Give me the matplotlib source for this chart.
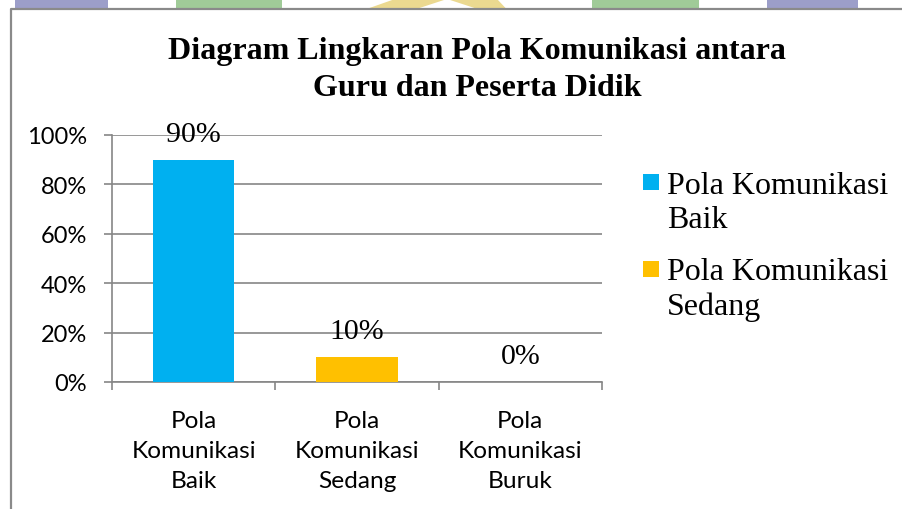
import matplotlib.pyplot as plt
from matplotlib.patches import Rectangle, Polygon
import numpy as np

# data
categories = ['Pola\nKomunikasi\nBaik', 'Pola\nKomunikasi\nSedang', 'Pola\nKomunikasi\nBuruk']
values = [0.90, 0.10, 0.00]
value_labels = ['90%', '10%', '0%']
bar_colors = ['#00B0F0', '#FFC000', '#A5A5A5']
legend_labels = ['Pola Komunikasi\nBaik', 'Pola Komunikasi\nSedang']
y_ticks = [0, 0.2, 0.4, 0.6, 0.8, 1.0]
y_tick_labels = ['0%', '20%', '40%', '60%', '80%', '100%']
title = 'Diagram Lingkaran Pola Komunikasi antara\nGuru dan Peserta Didik'

W, H = 902, 510
GRID = '#868686'
SERIF = 'Liberation Serif'
SANS = 'Lato'

fig = plt.figure(figsize=(W / 100, H / 100), dpi=100)

# background layer in pixel coordinates (page watermark + chart frame + legend)
bg = fig.add_axes([0, 0, 1, 1], zorder=0)
bg.set_xlim(0, W)
bg.set_ylim(H, 0)
bg.axis('off')
for x0, x1, c in [(15, 108, '#9C9EC9'), (176, 282, '#A0CB98'),
                  (592, 699, '#A0CB98'), (767, 858, '#9C9EC9')]:
    bg.add_patch(Rectangle((x0, 0), x1 - x0, 9.5, color=c, lw=0))
bg.add_patch(Polygon([(368, 9.5), (395, 0), (497, 0), (506, 9.5)], color='#EBD990', lw=0))
bg.add_patch(Polygon([(418, 9.5), (447, 0), (476, 9.5)], color='white', lw=0))
bg.plot([10.5, 10.5, W], [H, 9.5, 9.5], color='#8A8A8A', lw=1.6, solid_capstyle='butt')

# legend (first line of each label lines up with its swatch)
for i, lab in enumerate(legend_labels):
    top = 175 + i * 87
    bg.add_patch(Rectangle((643, top), 16, 16, color=bar_colors[i], lw=0))
    # va='baseline' pins the last line, so step down one line (35 px)
    bg.text(667, top + 18 + 35, lab, ha='left', va='baseline', fontsize=23,
            family=SERIF, linespacing=1.23)

# plot area
ax = fig.add_axes([112 / W, (H - 383) / H, 490 / W, 247 / H], zorder=1)
ax.patch.set_alpha(0)
x = np.arange(len(categories))
bars = ax.bar(x, values, width=0.5, color=bar_colors, zorder=3)

ax.set_xlim(-0.5, len(categories) - 0.5)
ax.set_ylim(0, 1)
ax.set_yticks(y_ticks)
ax.set_yticklabels(y_tick_labels, fontsize=17, family=SANS, color='black')
ax.set_xticks(x)
ax.set_xticklabels(categories, fontsize=17.6, family=SANS, color='black', linespacing=1.53)
ax.set_xticks(np.arange(len(categories) + 1) - 0.5, minor=True)
ax.tick_params(axis='x', which='major', length=0, pad=20)
ax.tick_params(axis='x', which='minor', length=6, width=1.2, color=GRID, direction='out')
ax.tick_params(axis='y', length=6, width=1.2, color=GRID, direction='out', pad=12)

ax.grid(axis='y', color=GRID, lw=1.2, zorder=0)
for s in ['top', 'right']:
    ax.spines[s].set_visible(False)
for s in ['left', 'bottom']:
    ax.spines[s].set_color(GRID)
    ax.spines[s].set_linewidth(1.2)

for xi, v, lab in zip(x, values, value_labels):
    ax.annotate(lab, (xi, v), xytext=(0, 13.7), textcoords='offset points',
                ha='center', va='baseline', fontsize=21.5, family=SERIF, zorder=4)

fig.text(477 / W, 1 - 37 / H, title, ha='center', va='top', fontsize=23,
         family=SERIF, weight='bold', linespacing=1.38)

fig.savefig('out.png', dpi=100)
